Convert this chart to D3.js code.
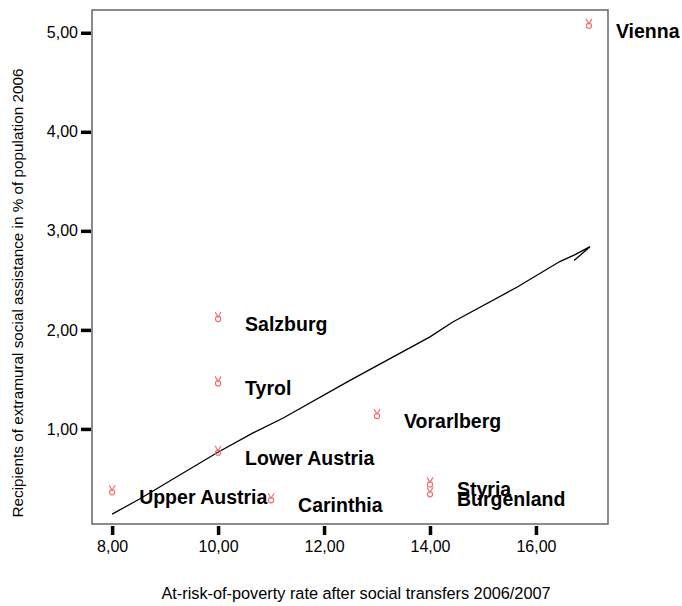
<!DOCTYPE html>
<html><head><meta charset="utf-8">
<script src="https://cdn.jsdelivr.net/npm/d3@7/dist/d3.min.js"></script>
<style>body{margin:0;background:#fff}svg{display:block;font-family:"Liberation Sans",Arial,sans-serif}</style>
</head><body>
<script>
const regions = ["Vienna","Salzburg","Tyrol","Lower Austria","Upper Austria","Carinthia","Vorarlberg","Styria","Burgenland"];
const povertyRate = [17, 10, 10, 10, 8, 11, 13, 14, 14];
const recipients = [5.09, 2.13, 1.48, 0.78, 0.38, 0.30, 1.15, 0.46, 0.36];
const fitX = [8.0, 8.51, 9.98, 10.66, 11.23, 12.49, 14.0, 14.43, 15.64, 16.45, 16.74, 17.02, 16.72];
const fitY = [0.14, 0.29, 0.76, 0.96, 1.11, 1.49, 1.93, 2.08, 2.43, 2.69, 2.76, 2.84, 2.70];
const xTicks = [8, 10, 12, 14, 16];
const yTicks = [1, 2, 3, 4, 5];
const xTitle = "At-risk-of-poverty rate after social transfers 2006/2007";
const yTitle = "Recipients of extramural social assistance in % of population 2006";

const W = 682, H = 606;
const L = 92, R = 608, T = 10, B = 524;
const svg = d3.select("body").append("svg").attr("width", W).attr("height", H);
const x = d3.scaleLinear().domain([7.62, 17.36]).range([L, R]);
const y = d3.scaleLinear().domain([0.04, 5.23]).range([B, T]);
const fmt = d => d3.format(".2f")(d).replace(".", ",");

// frame
svg.append("rect").attr("x", L).attr("y", T).attr("width", R - L).attr("height", B - T)
  .attr("fill", "none").attr("stroke", "#666").attr("stroke-width", 1.5);

// axes
const ya = svg.append("g").attr("transform", `translate(${L - 1},0)`)
  .call(d3.axisLeft(y).tickValues(yTicks).tickSize(10).tickPadding(3).tickFormat(fmt));
const xa = svg.append("g").attr("transform", `translate(0,${B + 2})`)
  .call(d3.axisBottom(x).tickValues(xTicks).tickSize(9).tickPadding(6).tickFormat(fmt));
[ya, xa].forEach(g => {
  g.select(".domain").remove();
  g.selectAll(".tick line").attr("stroke", "#000").attr("stroke-width", 3.5);
  g.selectAll(".tick text").attr("fill", "#000").attr("font-size", 16)
    .attr("font-family", "Liberation Sans, Arial, sans-serif");
});

// titles
svg.append("text").attr("x", 356).attr("y", 599).attr("text-anchor", "middle")
  .attr("font-size", 16.3).text(xTitle);
svg.append("text").attr("transform", "translate(23,293) rotate(-90)").attr("text-anchor", "middle")
  .attr("font-size", 15.3).text(yTitle);

// fit line
const pts = fitX.map((v, i) => [v, fitY[i]]);
svg.append("path").datum(pts)
  .attr("d", d3.line().x(d => x(d[0])).y(d => y(d[1])))
  .attr("fill", "none").attr("stroke", "#000").attr("stroke-width", 1.3);

// markers
const data = regions.map((r, i) => ({ r, x: povertyRate[i], y: recipients[i] }));
const m = svg.append("g").selectAll("g").data(data).join("g")
  .attr("transform", d => `translate(${x(d.x)},${y(d.y)})`)
  .attr("fill", "none").attr("stroke", "#f26b6b").attr("stroke-width", 1.1);
m.append("circle").attr("cx", 0).attr("cy", 2).attr("r", 2.6);
m.append("path").attr("d", "M-3,-5 L0,0 L3,-5");

// labels
svg.append("g").selectAll("text").data(data).join("text")
  .attr("x", d => x(d.x) + 27).attr("y", d => y(d.y) + 7)
  .attr("dominant-baseline", "central")
  .attr("font-size", 19.5).attr("font-weight", "bold").attr("fill", "#000")
  .text(d => d.r);
</script>
</body></html>
